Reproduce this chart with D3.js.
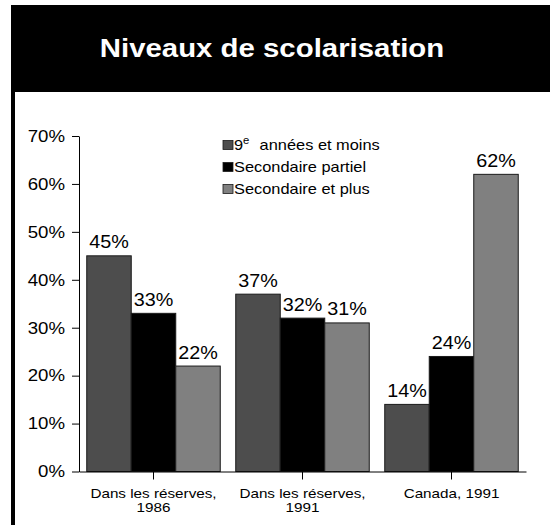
<!DOCTYPE html>
<html>
<head>
<meta charset="utf-8">
<script src="https://cdn.jsdelivr.net/npm/d3@7"></script>
<style>
  html, body { margin: 0; padding: 0; background: #fff; }
  svg { display: block; }
  text { font-family: "Liberation Sans", Arial, sans-serif; }
</style>
</head>
<body>
<svg id="chart" width="550" height="525"></svg>
<script>
const title = "Niveaux de scolarisation";
const categories = [["Dans les réserves,", "1986"], ["Dans les réserves,", "1991"], ["Canada, 1991"]];
const categoryKeys = ["r1986", "r1991", "ca1991"];
const seriesNames = ["9e années et moins", "Secondaire partiel", "Secondaire et plus"];
const serie9e = [45, 37, 14];
const serieSecPartiel = [33, 32, 24];
const serieSecPlus = [22, 31, 62];
const yTicks = [0, 10, 20, 30, 40, 50, 60, 70];
const colors = ["#4d4d4d", "#000000", "#808080"];

const seriesValues = [serie9e, serieSecPartiel, serieSecPlus];
const SX = 1.13; // horizontal text stretch seen in reference

const svg = d3.select("#chart");

// header band and left border
svg.append("rect").attr("x", 11).attr("y", 5).attr("width", 560).attr("height", 87).attr("fill", "#000");
svg.append("rect").attr("x", 11).attr("y", 90).attr("width", 4).attr("height", 440).attr("fill", "#000");

svg.append("text")
  .attr("transform", `translate(272,57) scale(${SX},1)`)
  .attr("text-anchor", "middle")
  .attr("fill", "#fff")
  .attr("font-weight", "bold")
  .attr("font-size", 26)
  .text(title);

const x0 = d3.scaleBand().domain(categoryKeys).range([79, 526]).paddingInner(0.104).paddingOuter(0.052);
const x1 = d3.scaleBand().domain(d3.range(seriesNames.length)).range([0, x0.bandwidth()]);
const y = d3.scaleLinear().domain([0, 70]).range([471.5, 136]);

// bars
const groups = svg.append("g").selectAll("g").data(categoryKeys).join("g")
  .attr("transform", d => `translate(${x0(d)},0)`);

groups.each(function(key, ci) {
  const g = d3.select(this);
  const data = seriesValues.map((vals, si) => ({ si, v: vals[ci] }));
  g.selectAll("rect").data(data).join("rect")
    .attr("x", d => x1(d.si))
    .attr("y", d => y(d.v))
    .attr("width", x1.bandwidth())
    .attr("height", d => y(0) - y(d.v))
    .attr("fill", d => colors[d.si])
    .attr("stroke", "#1a1a1a")
    .attr("stroke-width", 1);
  g.selectAll("text.val").data(data).join("text")
    .attr("class", "val")
    .attr("transform", d => `translate(${x1(d.si) + x1.bandwidth() / 2},${y(d.v) - 7.5}) scale(${SX},1)`)
    .attr("text-anchor", "middle")
    .attr("font-size", 17.5)
    .attr("fill", "#000")
    .text(d => d.v + "%");
});

// y axis
const yAxis = d3.axisLeft(y).tickValues(yTicks).tickSize(7).tickSizeOuter(0).tickPadding(7)
  .tickFormat(d => d + "%");
const gy = svg.append("g").attr("transform", "translate(79,0)").call(yAxis);
gy.select(".domain").attr("stroke", "#000");
gy.selectAll(".tick line").attr("stroke", "#000");
gy.selectAll(".tick text")
  .attr("font-family", "Liberation Sans, Arial, sans-serif")
  .attr("font-size", 16.5)
  .attr("fill", "#000")
  .each(function() {
    const t = d3.select(this);
    const xx = +t.attr("x");
    t.attr("x", null).attr("transform", `translate(${xx},0) scale(${SX},1)`);
  });

// x axis
const xAxis = d3.axisBottom(x0).tickSize(8).tickSizeOuter(0).tickFormat("");
const gx = svg.append("g").attr("transform", "translate(0,471.5)").call(xAxis);
gx.select(".domain").attr("stroke", "#000");
gx.selectAll(".tick line").attr("stroke", "#000");
gx.selectAll(".tick").each(function(key, i) {
  const t = d3.select(this).append("text")
    .attr("transform", `translate(0,26) scale(${SX},1)`)
    .attr("text-anchor", "middle")
    .attr("font-family", "Liberation Sans, Arial, sans-serif")
    .attr("font-size", 13.5)
    .attr("fill", "#000");
  categories[i].forEach((line, li) => {
    t.append("tspan").attr("x", 0).attr("y", li * 15).text(line);
  });
});

// legend
const legend = svg.append("g");
const rowsY = [150, 172, 194];
seriesNames.forEach((name, i) => {
  legend.append("rect")
    .attr("x", 223).attr("y", rowsY[i] - 9.5)
    .attr("width", 10).attr("height", 9)
    .attr("fill", colors[i]).attr("stroke", "#1a1a1a").attr("stroke-width", 0.8);
  const t = legend.append("text")
    .attr("transform", `translate(234,${rowsY[i]}) scale(${SX},1)`)
    .attr("font-size", 14.5)
    .attr("fill", "#000");
  if (i === 0) {
    t.append("tspan").text("9");
    t.append("tspan").attr("font-size", 10).attr("dy", -6).text("e");
    t.append("tspan").attr("dy", 6).attr("dx", 5).text(name.slice(2));
  } else {
    t.text(name);
  }
});
</script>
</body>
</html>
